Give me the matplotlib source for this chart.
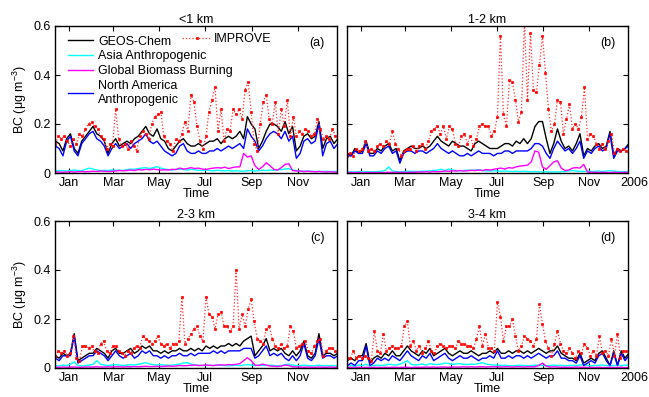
import matplotlib
matplotlib.use('Agg')
import matplotlib.pyplot as plt
import matplotlib.transforms as mtrans
import numpy as np

plt.rcParams['font.family'] = ['Liberation Sans', 'DejaVu Sans']
plt.rcParams['font.size'] = 9
plt.rcParams['mathtext.default'] = 'regular'

# day of 2005 (0 = 1 Jan); model every 5 days, IMPROVE every 4 days
day_model = np.arange(-18, 358, 5)
day_obs = np.arange(-18, 355, 4)

month_days = [0, 59, 120, 181, 243, 304]
month_names = ['Jan', 'Mar', 'May', 'Jul', 'Sep', 'Nov']
y_ticks = [0, 0.2, 0.4, 0.6]
y_ticklabels = ['0', '0.2', '0.4', '0.6']

titles = ['<1 km', '1-2 km', '2-3 km', '3-4 km']
tags = ['(a)', '(b)', '(c)', '(d)']

# ---- <1 km ----
geos_a = [0.13, 0.12, 0.09, 0.14, 0.16, 0.10, 0.08, 0.13, 0.15, 0.17,
          0.19, 0.16, 0.15, 0.13, 0.08, 0.12, 0.14, 0.11, 0.12, 0.13,
          0.12, 0.14, 0.15, 0.17, 0.19, 0.16, 0.15, 0.18, 0.14, 0.13,
          0.10, 0.09, 0.11, 0.13, 0.14, 0.12, 0.11, 0.11, 0.12, 0.11,
          0.12, 0.13, 0.13, 0.14, 0.12, 0.14, 0.15, 0.14, 0.15, 0.17,
          0.14, 0.23, 0.20, 0.18, 0.10, 0.13, 0.17, 0.20, 0.20, 0.19,
          0.17, 0.21, 0.16, 0.19, 0.09, 0.11, 0.15, 0.16, 0.14, 0.15,
          0.21, 0.10, 0.14, 0.15, 0.12, 0.14]
asia_a = [0.008, 0.010, 0.009, 0.008, 0.010, 0.012, 0.010, 0.009, 0.015, 0.020,
          0.016, 0.012, 0.010, 0.011, 0.010, 0.012, 0.011, 0.012, 0.010, 0.014,
          0.016, 0.015, 0.018, 0.020, 0.022, 0.018, 0.022, 0.026, 0.020, 0.016,
          0.014, 0.012, 0.015, 0.016, 0.014, 0.012, 0.015, 0.013, 0.011, 0.010,
          0.012, 0.010, 0.009, 0.011, 0.010, 0.009, 0.010, 0.008, 0.009, 0.008,
          0.007, 0.009, 0.010, 0.008, 0.010, 0.011, 0.010, 0.012, 0.011, 0.013,
          0.014, 0.016, 0.018, 0.012, 0.010, 0.008, 0.007, 0.008, 0.007, 0.006,
          0.007, 0.006, 0.007, 0.006, 0.006, 0.007]
bb_a = [0.004, 0.004, 0.003, 0.004, 0.005, 0.004, 0.005, 0.006, 0.005, 0.006,
        0.007, 0.006, 0.008, 0.007, 0.006, 0.007, 0.008, 0.010, 0.009, 0.010,
        0.012, 0.010, 0.014, 0.012, 0.015, 0.013, 0.016, 0.014, 0.012, 0.013,
        0.012, 0.015, 0.014, 0.020, 0.016, 0.018, 0.022, 0.018, 0.020, 0.016,
        0.014, 0.018, 0.020, 0.022, 0.020, 0.024, 0.018, 0.022, 0.025, 0.025,
        0.080, 0.065, 0.070, 0.030, 0.015, 0.025, 0.042, 0.030, 0.015, 0.012,
        0.022, 0.035, 0.038, 0.010, 0.008, 0.008, 0.006, 0.007, 0.006, 0.005,
        0.006, 0.005, 0.004, 0.005, 0.004, 0.004]
na_a = [0.11, 0.10, 0.07, 0.13, 0.15, 0.09, 0.07, 0.12, 0.14, 0.16,
        0.17, 0.14, 0.13, 0.11, 0.07, 0.10, 0.12, 0.10, 0.11, 0.12,
        0.10, 0.12, 0.13, 0.14, 0.16, 0.13, 0.12, 0.13, 0.11, 0.09,
        0.08, 0.07, 0.08, 0.11, 0.12, 0.09, 0.08, 0.08, 0.09, 0.08,
        0.08, 0.09, 0.09, 0.10, 0.09, 0.10, 0.11, 0.10, 0.11, 0.12,
        0.10, 0.18, 0.15, 0.13, 0.09, 0.11, 0.14, 0.16, 0.17, 0.16,
        0.14, 0.17, 0.13, 0.15, 0.06, 0.08, 0.13, 0.14, 0.12, 0.13,
        0.20, 0.07, 0.12, 0.13, 0.10, 0.12]
obs_a = [0.12, 0.15, 0.14, 0.15, 0.13, 0.11, 0.14, 0.12, 0.16, 0.15,
         0.18, 0.20, 0.21, 0.19, 0.18, 0.15, 0.14, 0.10, 0.12, 0.11,
         0.26, 0.14, 0.11, 0.12, 0.10, 0.13, 0.11, 0.09, 0.15, 0.17,
         0.16, 0.14, 0.20, 0.23, 0.24, 0.25, 0.15, 0.13, 0.12, 0.09,
         0.14, 0.13, 0.16, 0.21, 0.17, 0.32, 0.29, 0.19, 0.13, 0.10,
         0.15, 0.25, 0.30, 0.35, 0.17, 0.26, 0.13, 0.18, 0.17, 0.26,
         0.24, 0.26, 0.22, 0.34, 0.37, 0.25, 0.12, 0.09, 0.20, 0.29,
         0.32, 0.22, 0.20, 0.29, 0.16, 0.26, 0.19, 0.30, 0.15, 0.23,
         0.15, 0.17, 0.16, 0.18, 0.17, 0.15, 0.16, 0.22, 0.18, 0.14,
         0.15, 0.14, 0.18, 0.15]

# ---- 1-2 km ----
geos_b = [0.08, 0.07, 0.10, 0.08, 0.09, 0.13, 0.08, 0.08, 0.10, 0.09,
          0.11, 0.12, 0.09, 0.10, 0.05, 0.09, 0.10, 0.11, 0.10, 0.10,
          0.11, 0.10, 0.11, 0.13, 0.15, 0.13, 0.12, 0.11, 0.13, 0.12,
          0.11, 0.11, 0.10, 0.09, 0.12, 0.13, 0.12, 0.11, 0.10, 0.10,
          0.10, 0.11, 0.12, 0.12, 0.11, 0.13, 0.12, 0.14, 0.12, 0.14,
          0.19, 0.21, 0.21, 0.14, 0.08, 0.12, 0.18, 0.13, 0.10, 0.11,
          0.09, 0.12, 0.16, 0.07, 0.10, 0.09, 0.11, 0.12, 0.10, 0.11,
          0.17, 0.07, 0.10, 0.09, 0.10, 0.12]
asia_b = [0.004, 0.005, 0.004, 0.006, 0.005, 0.006, 0.005, 0.005, 0.006, 0.007,
          0.010, 0.025, 0.008, 0.006, 0.005, 0.006, 0.007, 0.006, 0.007, 0.006,
          0.008, 0.007, 0.009, 0.010, 0.012, 0.015, 0.010, 0.016, 0.012, 0.010,
          0.009, 0.010, 0.012, 0.011, 0.012, 0.014, 0.010, 0.009, 0.008, 0.009,
          0.008, 0.007, 0.008, 0.007, 0.006, 0.007, 0.006, 0.007, 0.006, 0.005,
          0.006, 0.005, 0.004, 0.005, 0.004, 0.005, 0.004, 0.005, 0.006, 0.008,
          0.010, 0.008, 0.007, 0.006, 0.008, 0.006, 0.007, 0.008, 0.006, 0.008,
          0.010, 0.008, 0.006, 0.005, 0.006, 0.005]
bb_b = [0.002, 0.002, 0.002, 0.002, 0.002, 0.002, 0.002, 0.002, 0.002, 0.002,
        0.002, 0.003, 0.002, 0.003, 0.002, 0.003, 0.002, 0.003, 0.003, 0.004,
        0.004, 0.005, 0.004, 0.006, 0.005, 0.006, 0.008, 0.007, 0.009, 0.008,
        0.010, 0.008, 0.009, 0.011, 0.010, 0.012, 0.010, 0.014, 0.012, 0.015,
        0.018, 0.020, 0.016, 0.022, 0.020, 0.025, 0.028, 0.030, 0.032, 0.045,
        0.090, 0.085, 0.025, 0.015, 0.030, 0.045, 0.050, 0.020, 0.010, 0.012,
        0.020, 0.022, 0.020, 0.035, 0.004, 0.003, 0.003, 0.002, 0.003, 0.002,
        0.002, 0.003, 0.002, 0.002, 0.003, 0.002]
na_b = [0.07, 0.07, 0.09, 0.08, 0.08, 0.12, 0.07, 0.07, 0.09, 0.08,
        0.10, 0.11, 0.08, 0.09, 0.04, 0.08, 0.09, 0.09, 0.08, 0.09,
        0.09, 0.08, 0.09, 0.10, 0.12, 0.10, 0.09, 0.08, 0.09, 0.08,
        0.07, 0.07, 0.08, 0.07, 0.08, 0.09, 0.08, 0.08, 0.08, 0.07,
        0.08, 0.08, 0.09, 0.09, 0.08, 0.09, 0.09, 0.09, 0.09, 0.10,
        0.12, 0.12, 0.11, 0.08, 0.06, 0.10, 0.13, 0.11, 0.09, 0.10,
        0.08, 0.10, 0.13, 0.06, 0.09, 0.08, 0.10, 0.11, 0.09, 0.10,
        0.16, 0.06, 0.09, 0.09, 0.10, 0.11]
obs_b = [0.07, 0.08, 0.07, 0.10, 0.09, 0.10, 0.13, 0.09, 0.10, 0.09,
         0.11, 0.12, 0.11, 0.13, 0.12, 0.17, 0.12, 0.10, 0.07, 0.09,
         0.10, 0.10, 0.11, 0.09, 0.11, 0.12, 0.10, 0.13, 0.17, 0.18,
         0.19, 0.16, 0.19, 0.14, 0.19, 0.18, 0.12, 0.11, 0.15, 0.16,
         0.12, 0.15, 0.11, 0.14, 0.19, 0.20, 0.19, 0.19, 0.15, 0.17,
         0.23, 0.56, 0.24, 0.19, 0.38, 0.37, 0.30, 0.21, 0.25, 0.62,
         0.30, 0.57, 0.34, 0.33, 0.44, 0.56, 0.41, 0.26, 0.17, 0.20,
         0.30, 0.29, 0.16, 0.22, 0.28, 0.18, 0.20, 0.18, 0.23, 0.35,
         0.14, 0.16, 0.15, 0.12, 0.10, 0.12, 0.10, 0.13, 0.16, 0.08,
         0.10, 0.09, 0.10, 0.09]

# ---- 2-3 km ----
geos_c = [0.05, 0.04, 0.06, 0.05, 0.06, 0.14, 0.03, 0.04, 0.05, 0.06,
          0.06, 0.08, 0.07, 0.06, 0.04, 0.07, 0.08, 0.06, 0.06, 0.07,
          0.08, 0.06, 0.07, 0.09, 0.08, 0.09, 0.07, 0.07, 0.06, 0.07,
          0.06, 0.07, 0.07, 0.08, 0.07, 0.07, 0.08, 0.07, 0.08, 0.07,
          0.09, 0.08, 0.09, 0.08, 0.09, 0.09, 0.10, 0.09, 0.10, 0.09,
          0.11, 0.12, 0.13, 0.05, 0.07, 0.09, 0.12, 0.07, 0.08, 0.07,
          0.08, 0.06, 0.05, 0.07, 0.05, 0.07, 0.11, 0.05, 0.04, 0.06,
          0.14, 0.05, 0.06, 0.06, 0.05, 0.06]
asia_c = [0.010, 0.008, 0.012, 0.010, 0.015, 0.025, 0.010, 0.008, 0.010, 0.012,
          0.015, 0.030, 0.015, 0.012, 0.010, 0.012, 0.014, 0.012, 0.010, 0.012,
          0.014, 0.012, 0.015, 0.018, 0.022, 0.016, 0.014, 0.012, 0.014, 0.012,
          0.011, 0.012, 0.014, 0.016, 0.020, 0.022, 0.016, 0.012, 0.011, 0.010,
          0.010, 0.011, 0.010, 0.012, 0.011, 0.010, 0.009, 0.010, 0.011, 0.010,
          0.012, 0.014, 0.012, 0.010, 0.012, 0.011, 0.010, 0.012, 0.010, 0.009,
          0.010, 0.014, 0.016, 0.012, 0.010, 0.009, 0.012, 0.010, 0.009, 0.010,
          0.011, 0.009, 0.010, 0.009, 0.010, 0.009]
bb_c = [0.003, 0.003, 0.004, 0.003, 0.004, 0.004, 0.003, 0.003, 0.004, 0.004,
        0.004, 0.005, 0.004, 0.004, 0.005, 0.004, 0.005, 0.005, 0.004, 0.005,
        0.005, 0.006, 0.005, 0.006, 0.007, 0.006, 0.006, 0.007, 0.006, 0.007,
        0.008, 0.007, 0.008, 0.010, 0.009, 0.010, 0.011, 0.012, 0.010, 0.011,
        0.012, 0.011, 0.010, 0.012, 0.013, 0.012, 0.014, 0.013, 0.015, 0.018,
        0.030, 0.042, 0.030, 0.012, 0.010, 0.016, 0.012, 0.008, 0.007, 0.006,
        0.008, 0.012, 0.010, 0.005, 0.004, 0.004, 0.003, 0.004, 0.003, 0.003,
        0.004, 0.003, 0.003, 0.004, 0.003, 0.003]
na_c = [0.04, 0.03, 0.05, 0.05, 0.05, 0.13, 0.02, 0.03, 0.04, 0.05,
        0.05, 0.07, 0.06, 0.05, 0.03, 0.05, 0.07, 0.05, 0.04, 0.05,
        0.06, 0.04, 0.05, 0.07, 0.06, 0.07, 0.05, 0.05, 0.04, 0.05,
        0.04, 0.05, 0.05, 0.06, 0.05, 0.05, 0.06, 0.05, 0.06, 0.06,
        0.06, 0.06, 0.07, 0.06, 0.07, 0.06, 0.07, 0.07, 0.07, 0.07,
        0.08, 0.08, 0.08, 0.04, 0.05, 0.07, 0.09, 0.05, 0.06, 0.05,
        0.06, 0.04, 0.03, 0.05, 0.03, 0.05, 0.10, 0.04, 0.03, 0.05,
        0.12, 0.04, 0.05, 0.05, 0.04, 0.05]
obs_c = [0.05, 0.07, 0.06, 0.07, 0.05, 0.06, 0.13, 0.04, 0.03, 0.09,
         0.09, 0.08, 0.09, 0.07, 0.06, 0.10, 0.11, 0.07, 0.06, 0.09,
         0.09, 0.07, 0.06, 0.05, 0.07, 0.06, 0.08, 0.09, 0.08, 0.13,
         0.12, 0.11, 0.10, 0.11, 0.13, 0.10, 0.09, 0.10, 0.08, 0.10,
         0.10, 0.11, 0.29, 0.10, 0.12, 0.14, 0.16, 0.17, 0.13, 0.11,
         0.29, 0.22, 0.21, 0.16, 0.22, 0.23, 0.17, 0.17, 0.15, 0.17,
         0.40, 0.16, 0.22, 0.17, 0.24, 0.28, 0.19, 0.12, 0.11, 0.10,
         0.16, 0.17, 0.12, 0.09, 0.08, 0.10, 0.08, 0.09, 0.17, 0.15,
         0.08, 0.09, 0.10, 0.11, 0.07, 0.06, 0.09, 0.11, 0.12, 0.05,
         0.07, 0.08, 0.08, 0.07]

# ---- 3-4 km ----
geos_d = [0.03, 0.04, 0.03, 0.05, 0.05, 0.10, 0.02, 0.04, 0.05, 0.04,
          0.06, 0.05, 0.07, 0.05, 0.05, 0.07, 0.09, 0.07, 0.06, 0.05,
          0.07, 0.06, 0.08, 0.05, 0.06, 0.07, 0.08, 0.06, 0.05, 0.06,
          0.07, 0.06, 0.06, 0.07, 0.06, 0.05, 0.06, 0.06, 0.07, 0.06,
          0.08, 0.06, 0.06, 0.07, 0.06, 0.07, 0.07, 0.06, 0.07, 0.06,
          0.07, 0.08, 0.07, 0.06, 0.07, 0.07, 0.09, 0.06, 0.05, 0.04,
          0.04, 0.03, 0.06, 0.02, 0.03, 0.04, 0.03, 0.06, 0.07, 0.04,
          0.01, 0.07, 0.01, 0.07, 0.04, 0.06]
asia_d = [0.008, 0.010, 0.007, 0.012, 0.010, 0.015, 0.008, 0.010, 0.012, 0.010,
          0.012, 0.015, 0.014, 0.012, 0.016, 0.022, 0.030, 0.015, 0.012, 0.014,
          0.016, 0.012, 0.018, 0.015, 0.014, 0.016, 0.020, 0.018, 0.015, 0.016,
          0.018, 0.015, 0.014, 0.016, 0.015, 0.018, 0.022, 0.016, 0.014, 0.012,
          0.012, 0.010, 0.011, 0.010, 0.009, 0.010, 0.011, 0.010, 0.009, 0.010,
          0.011, 0.012, 0.010, 0.009, 0.010, 0.012, 0.010, 0.011, 0.009, 0.010,
          0.011, 0.010, 0.012, 0.014, 0.010, 0.009, 0.010, 0.011, 0.012, 0.010,
          0.009, 0.010, 0.011, 0.010, 0.012, 0.010]
bb_d = [0.002, 0.003, 0.002, 0.003, 0.002, 0.003, 0.002, 0.003, 0.003, 0.002,
        0.003, 0.002, 0.003, 0.003, 0.002, 0.003, 0.003, 0.002, 0.003, 0.003,
        0.003, 0.004, 0.003, 0.004, 0.003, 0.004, 0.004, 0.003, 0.004, 0.004,
        0.004, 0.005, 0.004, 0.005, 0.004, 0.005, 0.005, 0.004, 0.005, 0.005,
        0.005, 0.004, 0.005, 0.005, 0.004, 0.005, 0.005, 0.004, 0.005, 0.005,
        0.005, 0.010, 0.020, 0.008, 0.004, 0.005, 0.004, 0.003, 0.003, 0.003,
        0.003, 0.004, 0.003, 0.003, 0.002, 0.003, 0.002, 0.003, 0.002, 0.002,
        0.003, 0.002, 0.002, 0.003, 0.002, 0.002]
na_d = [0.01, 0.02, 0.01, 0.03, 0.03, 0.09, 0.01, 0.02, 0.04, 0.03,
        0.04, 0.03, 0.05, 0.04, 0.03, 0.05, 0.07, 0.05, 0.04, 0.03,
        0.05, 0.04, 0.06, 0.03, 0.04, 0.05, 0.06, 0.04, 0.03, 0.04,
        0.05, 0.04, 0.04, 0.05, 0.04, 0.03, 0.04, 0.04, 0.05, 0.04,
        0.07, 0.04, 0.04, 0.05, 0.04, 0.05, 0.05, 0.04, 0.05, 0.04,
        0.05, 0.06, 0.05, 0.04, 0.05, 0.05, 0.07, 0.04, 0.04, 0.03,
        0.03, 0.02, 0.05, 0.01, 0.02, 0.03, 0.02, 0.05, 0.06, 0.03,
        0.01, 0.06, 0.01, 0.06, 0.03, 0.05]
obs_d = [0.04, 0.04, 0.07, 0.04, 0.05, 0.04, 0.05, 0.04, 0.03, 0.15,
         0.07, 0.06, 0.14, 0.07, 0.08, 0.09, 0.08, 0.08, 0.09, 0.17,
         0.19, 0.09, 0.11, 0.07, 0.09, 0.06, 0.08, 0.11, 0.07, 0.06,
         0.09, 0.10, 0.09, 0.08, 0.09, 0.09, 0.08, 0.11, 0.10, 0.10,
         0.09, 0.09, 0.08, 0.12, 0.17, 0.09, 0.14, 0.08, 0.08, 0.07,
         0.27, 0.21, 0.11, 0.17, 0.17, 0.20, 0.13, 0.07, 0.09, 0.13,
         0.12, 0.11, 0.09, 0.12, 0.26, 0.18, 0.11, 0.08, 0.05, 0.10,
         0.15, 0.10, 0.07, 0.06, 0.08, 0.06, 0.04, 0.07, 0.06, 0.10,
         0.08, 0.05, 0.07, 0.05, 0.13, 0.06, 0.07, 0.05, 0.12, 0.05,
         0.14, 0.04, 0.07, 0.07]

panels = [(geos_a, asia_a, bb_a, na_a, obs_a),
          (geos_b, asia_b, bb_b, na_b, obs_b),
          (geos_c, asia_c, bb_c, na_c, obs_c),
          (geos_d, asia_d, bb_d, na_d, obs_d)]

W, H = 649, 397
fig = plt.figure(figsize=(W / 100, H / 100), dpi=100)

# axes boxes in pixels: left, top, width, height
boxes = [(55, 26, 282, 147), (347, 26, 281, 147),
         (55, 221, 282, 147), (347, 221, 281, 147)]

for k in range(4):
    l, t, w, h = boxes[k]
    ax = fig.add_axes([l / W, 1 - (t + h) / H, w / W, h / H])
    geos, asia, bb, na, obs = panels[k]
    lw = 1.0
    l1, = ax.plot(day_model, geos, color='k', lw=lw, label='GEOS-Chem')
    l2, = ax.plot(day_model, asia, color='#00ffff', lw=lw, label='Asia Anthropogenic')
    l3, = ax.plot(day_model, bb, color='#ff00ff', lw=lw, label='Global Biomass Burning')
    l4, = ax.plot(day_model, na, color='#0000ff', lw=lw, label='North America\nAnthropogenic')
    l5, = ax.plot(day_obs, obs, color='#ff3030', ls=':', lw=0.9, marker='s',
                  ms=2.0, mew=0.5, mfc='#ff0000', mec='#ff0000', label='IMPROVE')

    ax.set_xlim(-18.5, 356)
    ax.set_ylim(0, 0.6)
    ax.set_xticks(month_days)
    ax.set_xticklabels(month_names)
    ax.set_yticks(y_ticks)
    ax.tick_params(direction='in', top=True, right=True, length=3.5, width=0.8,
                   labelsize=9, pad=3)
    for s in ax.spines.values():
        s.set_linewidth(1.0)
    if k % 2 == 0:
        ax.set_yticklabels(y_ticklabels)
        ax.set_ylabel('BC (μg m$^{-3}$)', fontsize=9, labelpad=3)
    else:
        ax.set_yticklabels([])
        trans = mtrans.blended_transform_factory(ax.transData, ax.transAxes)
        ax.annotate('2006', xy=(365, 0), xycoords=trans, xytext=(0, -3),
                    textcoords='offset points', ha='center', va='top',
                    fontsize=9, annotation_clip=False)
    ax.set_xlabel('Time', fontsize=9, labelpad=-1)
    ax.set_title(titles[k], fontsize=9, pad=2)
    ax.text(0.957, 0.885, tags[k], transform=ax.transAxes, ha='right',
            va='center', fontsize=9)

    if k == 0:
        leg1 = ax.legend(handles=[l1, l2, l3, l4], loc='upper left',
                         bbox_to_anchor=(0.02, 0.985), frameon=False,
                         fontsize=9, handlelength=2.0, handletextpad=0.4,
                         labelspacing=0.22, borderaxespad=0.2)
        ax.add_artist(leg1)
        ax.legend(handles=[l5], loc='upper left', bbox_to_anchor=(0.425, 1.0),
                  frameon=False, fontsize=9, handlelength=2.3,
                  handletextpad=0.2, borderaxespad=0.2)

fig.savefig('out.png', dpi=100)
